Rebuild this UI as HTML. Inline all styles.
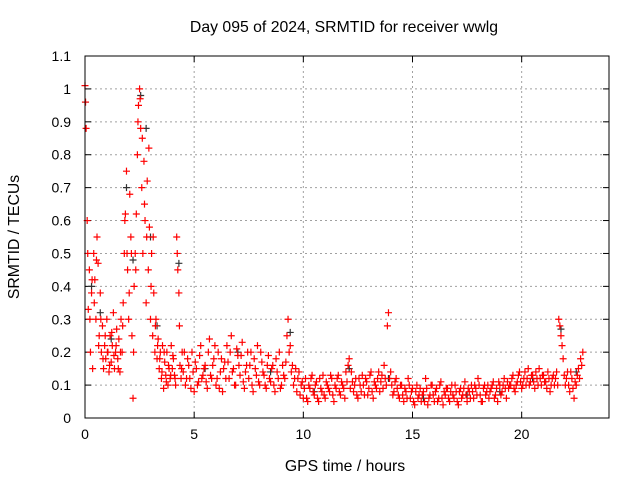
<!DOCTYPE html>
<html><head><meta charset="utf-8"><style>
body{margin:0;background:#fff;}
svg{display:block;font-family:"Liberation Sans",sans-serif;}
</style></head><body>
<svg id="chart" width="640" height="480" viewBox="0 0 640 480" xmlns="http://www.w3.org/2000/svg">
<rect x="0" y="0" width="640" height="480" fill="#fff"/>
<text x="344" y="32" font-size="15.8" text-anchor="middle">Day 095 of 2024, SRMTID for receiver wwlg</text>
<text x="19" y="237" font-size="15.8" text-anchor="middle" transform="rotate(-90 19 237)">SRMTID / TECUs</text>
<text x="345" y="471" font-size="15.8" text-anchor="middle">GPS time / hours</text>
<g id="grid"></g>
<g id="ticks"></g>
<g id="black-series"></g>
<g id="red-series"></g>
<rect x="85" y="56" width="524" height="362" fill="none" stroke="#000" stroke-width="1"/>
</svg>
<script>
const xTicks=[0,5,10,15,20];
const yTicks=[0,0.1,0.2,0.3,0.4,0.5,0.6,0.7,0.8,0.9,1,1.1];
const yTickLabels=["0","0.1","0.2","0.3","0.4","0.5","0.6","0.7","0.8","0.9","1","1.1"];
const redTimes=[0,0.05,0.1,0.15,0.2,0.25,0.3,0.35,0.4,0.45,0.5,0.55,0.6,0.65,0.7,0.75,0.8,0.85,0.9,0.95,1,1.05,1.1,1.15,1.2,1.25,1.3,1.35,1.4,1.45,1.5,1.55,1.6,1.65,1.7,1.75,1.8,1.85,1.9,1.95,2,2.05,2.1,2.15,2.2,2.25,2.3,2.35,2.4,2.45,2.5,2.55,2.6,2.65,2.7,2.75,2.8,2.85,2.9,2.95,3,3.05,3.1,3.15,3.2,3.25,3.3,3.35,3.4,3.45,3.5,3.55,3.6,3.65,3.7,3.75,3.8,3.85,3.9,3.95,4,4.05,4.1,4.15,4.2,4.25,4.3,4.35,4.4,4.45,
4.5,4.6,4.7,4.8,4.9,5,5.1,5.2,5.3,5.4,5.5,5.6,5.7,5.8,5.9,6,6.1,6.2,6.3,6.4,6.5,6.6,6.7,6.8,6.9,7,7.1,7.2,7.3,7.4,7.5,7.6,7.7,7.8,7.9,8,8.1,8.2,8.3,8.4,8.5,8.6,8.7,8.8,8.9,9,9.1,9.2,9.3,9.4,9.5,9.6,9.7,9.8,9.9,10,10.1,10.2,10.3,10.4,10.5,10.6,10.7,10.8,10.9,11,11.1,11.2,11.3,11.4,11.5,11.6,11.7,11.8,11.9,12,12.1,12.2,12.3,12.4,12.5,12.6,12.7,12.8,12.9,13,13.1,13.2,13.3,13.4,13.5,13.6,13.7,13.8,13.9,14,14.1,14.2,14.3,14.4,14.5,14.6,14.7,14.8,14.9,15,15.1,15.2,15.3,15.4,15.5,15.6,15.7,15.8,15.9,16,16.1,16.2,16.3,16.4,16.5,16.6,16.7,16.8,16.9,17,17.1,17.2,17.3,17.4,17.5,17.6,17.7,17.8,17.9,18,18.1,18.2,18.3,18.4,18.5,18.6,18.7,18.8,18.9,19,19.1,19.2,19.3,19.4,19.5,19.6,19.7,19.8,19.9,20,20.1,20.2,20.3,20.4,20.5,20.6,20.7,20.8,20.9,21,21.1,21.2,21.3,21.4,21.5,21.6,21.7,21.8,21.9,22,22.1,22.2,22.3,22.4,22.5,22.6,22.7,22.8];
const redValues=[1.01,0.88,0.6,0.33,0.45,0.2,0.38,0.15,0.5,0.42,0.3,0.55,0.47,0.25,0.38,0.2,0.28,0.15,0.22,0.18,0.3,0.2,0.14,0.25,0.17,0.22,0.32,0.15,0.2,0.27,0.18,0.24,0.14,0.3,0.2,0.35,0.5,0.62,0.75,0.45,0.3,0.68,0.55,0.25,0.06,0.4,0.5,0.62,0.8,0.95,1.0,0.88,0.7,0.5,0.78,0.6,0.35,0.72,0.45,0.58,0.3,0.5,0.25,0.38,0.2,0.3,0.18,0.24,0.15,0.2,0.12,0.22,0.09,0.17,0.13,0.2,0.1,0.15,0.12,0.22,0.15,0.18,0.13,0.1,0.55,0.45,0.38,0.16,0.12,0.2,
0.14,0.1,0.18,0.12,0.2,0.08,0.15,0.11,0.22,0.13,
0.16,0.09,0.24,0.12,0.18,0.1,0.2,0.14,0.08,0.17,
0.22,0.12,0.25,0.15,0.1,0.19,0.13,0.23,0.09,0.16,
0.12,0.2,0.08,0.15,0.22,0.1,0.17,0.13,0.09,0.19,
0.11,0.16,0.08,0.14,0.2,0.1,0.13,0.17,0.3,0.22,
0.16,0.12,0.08,0.14,0.1,0.06,0.12,0.05,0.09,0.13,
0.07,0.11,0.05,0.09,0.13,0.06,0.1,0.08,0.12,0.05,
0.09,0.13,0.07,0.1,0.06,0.11,0.18,0.14,0.08,0.12,
0.06,0.1,0.13,0.07,0.11,0.09,0.14,0.06,0.1,0.12,
0.08,0.13,0.16,0.1,0.32,0.14,0.07,0.11,0.09,0.06,
0.1,0.05,0.08,0.12,0.06,0.09,0.04,0.1,0.07,0.05,
0.08,0.12,0.04,0.07,0.1,0.05,0.09,0.06,0.11,0.04,
0.07,0.09,0.05,0.1,0.06,0.08,0.04,0.09,0.07,0.11,
0.05,0.08,0.1,0.06,0.09,0.12,0.07,0.05,0.1,0.08,
0.06,0.09,0.11,0.07,0.05,0.1,0.08,0.12,0.06,0.09,
0.1,0.13,0.08,0.11,0.14,0.09,0.12,0.1,0.15,0.11,
0.13,0.09,0.12,0.15,0.1,0.13,0.11,0.14,0.08,0.12,
0.1,0.14,0.3,0.25,0.18,0.1,0.14,0.08,0.12,0.06,
0.1,0.15,0.18,0.2];
const redTimesB=[0.025,0.125,0.225,0.325,0.425,0.525,0.625,0.725,0.825,0.925,1.025,1.125,1.225,1.325,1.425,1.525,1.625,1.725,1.825,1.925,2.025,2.125,2.225,2.325,2.425,2.525,2.625,2.725,2.825,2.925,3.025,3.125,3.225,3.325,3.425,3.525,3.625,3.725,3.825,3.925,4.025,4.125,4.225,4.325,4.425,
4.55,4.65,4.75,4.85,4.95,5.05,5.15,5.25,5.35,5.45,5.55,5.65,5.75,5.85,5.95,6.05,6.15,6.25,6.35,6.45,6.55,6.65,6.75,6.85,6.95,7.05,7.15,7.25,7.35,7.45,7.55,7.65,7.75,7.85,7.95,8.05,8.15,8.25,8.35,8.45,8.55,8.65,8.75,8.85,8.95,9.05,9.15,9.25,9.35,9.45,9.55,9.65,9.75,9.85,9.95,10.05,10.15,10.25,10.35,10.45,10.55,10.65,10.75,10.85,10.95,11.05,11.15,11.25,11.35,11.45,11.55,11.65,11.75,11.85,11.95,12.05,12.15,12.25,12.35,12.45,12.55,12.65,12.75,12.85,12.95,13.05,13.15,13.25,13.35,13.45,13.55,13.65,13.75,13.85,13.95,14.05,14.15,14.25,14.35,14.45,14.55,14.65,14.75,14.85,14.95,15.05,15.15,15.25,15.35,15.45,15.55,15.65,15.75,15.85,15.95,16.05,16.15,16.25,16.35,16.45,16.55,16.65,16.75,16.85,16.95,17.05,17.15,17.25,17.35,17.45,17.55,17.65,17.75,17.85,17.95,18.05,18.15,18.25,18.35,18.45,18.55,18.65,18.75,18.85,18.95,19.05,19.15,19.25,19.35,19.45,19.55,19.65,19.75,19.85,19.95,20.05,20.15,20.25,20.35,20.45,20.55,20.65,20.75,20.85,20.95,21.05,21.15,21.25,21.35,21.45,21.55,21.65,21.75,21.85,21.95,22.05,22.15,22.25,22.35,22.45,22.55,22.65,22.75];
const redValuesB=[0.96,0.5,0.3,0.42,0.35,0.48,0.22,0.3,0.18,0.25,0.2,0.16,0.26,0.19,0.22,0.15,0.2,0.28,0.6,0.5,0.38,0.5,0.2,0.45,0.9,0.97,0.85,0.65,0.55,0.82,0.4,0.55,0.28,0.22,0.18,0.14,0.2,0.11,0.16,0.13,0.19,0.12,0.5,0.28,0.15,
0.2,0.12,0.16,0.09,0.14,0.17,0.1,0.19,0.12,0.15,
0.11,0.2,0.13,0.16,0.22,0.12,0.09,0.18,0.15,0.12,
0.17,0.2,0.14,0.1,0.21,0.16,0.19,0.11,0.14,0.2,
0.16,0.1,0.18,0.13,0.11,0.2,0.14,0.1,0.16,0.12,
0.15,0.1,0.18,0.12,0.09,0.16,0.12,0.25,0.2,0.14,
0.1,0.15,0.12,0.07,0.11,0.09,0.06,0.1,0.12,0.08,
0.1,0.06,0.12,0.08,0.07,0.11,0.09,0.13,0.07,0.1,
0.12,0.08,0.11,0.09,0.14,0.16,0.09,0.11,0.1,0.07,
0.12,0.08,0.1,0.12,0.07,0.13,0.08,0.11,0.09,0.14,
0.11,0.09,0.12,0.28,0.12,0.1,0.08,0.12,0.07,0.1,
0.07,0.09,0.06,0.1,0.08,0.05,0.08,0.06,0.09,0.07,
0.05,0.09,0.06,0.1,0.07,0.08,0.05,0.1,0.06,0.08,
0.09,0.06,0.08,0.07,0.1,0.05,0.08,0.06,0.09,0.07,
0.09,0.06,0.08,0.1,0.07,0.1,0.05,0.09,0.07,0.1,
0.08,0.1,0.06,0.09,0.11,0.07,0.1,0.09,0.11,0.1,
0.12,0.09,0.1,0.13,0.11,0.1,0.14,0.12,0.1,0.13,
0.11,0.14,0.1,0.12,0.13,0.11,0.09,0.12,0.1,0.13,
0.12,0.1,0.28,0.22,0.13,0.12,0.1,0.14,0.09,0.11,
0.13,0.12,0.16];
const blackTimes=[0.02,0.3,0.7,1.2,1.9,2.2,2.55,2.8,3.0,3.3,4.3,5.5,7.0,8.5,9.4,10.5,12.1,13.9,15.5,17.5,19.0,20.5,21.8,22.5];
const blackValues=[0.96,0.4,0.32,0.24,0.7,0.48,0.98,0.88,0.55,0.28,0.47,0.15,0.2,0.14,0.26,0.08,0.15,0.12,0.06,0.07,0.08,0.12,0.27,0.14];

const NS="http://www.w3.org/2000/svg";
const X0=85,X1=609,Y0=418,Y1=56;
const xScale=t=>X0+t*(X1-X0)/24;
const yScale=v=>Y0-v*(Y0-Y1)/1.1;
function mk(tag,attrs,parent){const e=document.createElementNS(NS,tag);for(const k in attrs)e.setAttribute(k,attrs[k]);parent.appendChild(e);return e;}
const grid=document.getElementById('grid'),ticks=document.getElementById('ticks');
xTicks.forEach(t=>{
  const x=xScale(t);
  if(t>0){const g=mk('line',{x1:x,y1:Y0,x2:x,y2:Y1,stroke:'#a0a0a0','stroke-dasharray':'2,3'},grid);
  
  }
  mk('line',{x1:x,y1:Y0,x2:x,y2:Y0-6,stroke:'#000'},ticks);
  mk('line',{x1:x,y1:Y1,x2:x,y2:Y1+6,stroke:'#000'},ticks);
  const l=mk('text',{x:x,y:Y0+21,'font-size':14,'text-anchor':'middle'},ticks);
  l.textContent=String(t);
  
  
});
yTicks.forEach((v,i)=>{
  const y=yScale(v);
  if(i>0&&i<yTicks.length-1){const g=mk('line',{x1:X0,y1:y,x2:X1,y2:y,stroke:'#a0a0a0','stroke-dasharray':'2,3'},grid);
  
  }
  mk('line',{x1:X0,y1:y,x2:X0+6,y2:y,stroke:'#000'},ticks);
  mk('line',{x1:X1,y1:y,x2:X1-6,y2:y,stroke:'#000'},ticks);
  const l=mk('text',{x:X0-14,y:y+5,'font-size':14,'text-anchor':'end'},ticks);
  l.textContent=yTickLabels[i];
  
  
});
function plot(times,vals,color,gid,name){
  const g=document.getElementById(gid);
  let d='';
  times.forEach((t,i)=>{const x=xScale(t),y=yScale(vals[i]);d+=`M${x-3.5},${y}h7M${x},${y-3.5}v7`;});
  const p=mk('path',{d:d,stroke:color,'stroke-width':1.2,fill:'none'},g);
  
  
}
plot(blackTimes,blackValues,'#333','black-series','black-point-markers');
plot(redTimes,redValues,'#ff0000','red-series','red-point-markers');
plot(redTimesB,redValuesB,'#ff0000','red-series','red-point-markers-extra');
</script>
</body></html>
